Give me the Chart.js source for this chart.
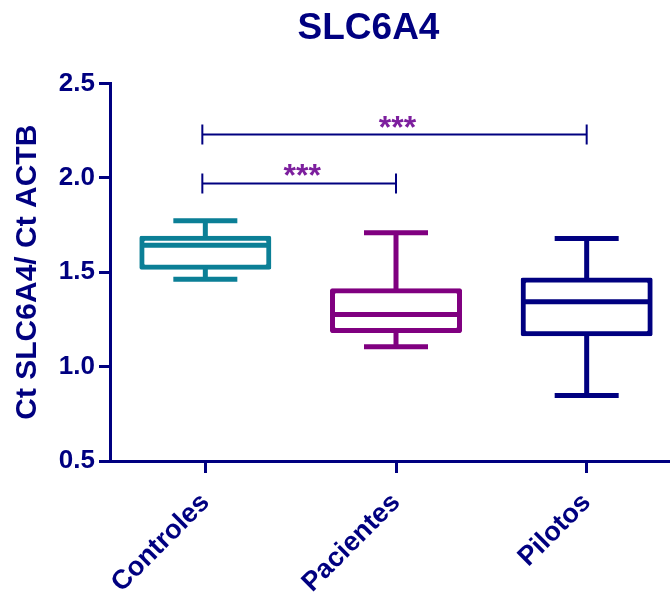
<!DOCTYPE html>
<html>
<head>
<meta charset="utf-8">
<script src="https://cdn.jsdelivr.net/npm/chart.js@4"></script>
<style>
  html, body { margin: 0; padding: 0; background: #fff; }
  #wrap { width: 670px; height: 598px; }
</style>
</head>
<body>
<div id="wrap"><canvas id="chart"></canvas></div>
<script>
// box plot values
const categories = ['Controles', 'Pacientes', 'Pilotos'];
const whiskerMax = [1.773, 1.709, 1.678];
const q3 = [1.683, 1.405, 1.461];
const medians = [1.643, 1.276, 1.343];
const q1 = [1.524, 1.188, 1.171];
const whiskerMin = [1.462, 1.105, 0.847];
const boxColors = ['#0B7F96', '#800080', '#000080'];

// significance brackets
const sigFrom = [0, 0];
const sigTo = [1, 2];
const sigLevel = [1.97, 2.229];
const sigLabel = ['***', '***'];

const yTicks = [0.5, 1.0, 1.5, 2.0, 2.5];
const chartTitle = 'SLC6A4';

const navy = '#000080';
const font = 'Arial, "Liberation Sans", sans-serif';

// whiskers, caps, medians, brackets and title drawn from the scales
const boxExtras = {
  id: 'boxExtras',
  afterDatasetsDraw(chart) {
    const { ctx, scales: { x, y } } = chart;
    ctx.save();
    ctx.lineCap = 'butt';
    categories.forEach((c, i) => {
      const cx = x.getPixelForValue(i);
      ctx.strokeStyle = boxColors[i];
      ctx.lineWidth = 5;
      ctx.beginPath();
      // stems
      ctx.moveTo(cx, y.getPixelForValue(q3[i]));
      ctx.lineTo(cx, y.getPixelForValue(whiskerMax[i]));
      ctx.moveTo(cx, y.getPixelForValue(q1[i]));
      ctx.lineTo(cx, y.getPixelForValue(whiskerMin[i]));
      // caps
      ctx.moveTo(cx - 32, y.getPixelForValue(whiskerMax[i]));
      ctx.lineTo(cx + 32, y.getPixelForValue(whiskerMax[i]));
      ctx.moveTo(cx - 32, y.getPixelForValue(whiskerMin[i]));
      ctx.lineTo(cx + 32, y.getPixelForValue(whiskerMin[i]));
      // median
      ctx.moveTo(cx - 64, y.getPixelForValue(medians[i]));
      ctx.lineTo(cx + 64, y.getPixelForValue(medians[i]));
      ctx.stroke();
    });

    sigFrom.forEach((f, k) => {
      const x1 = x.getPixelForValue(f) - 3;
      const x2 = x.getPixelForValue(sigTo[k]);
      const yy = y.getPixelForValue(sigLevel[k]);
      ctx.strokeStyle = navy;
      ctx.lineWidth = 2;
      ctx.beginPath();
      ctx.moveTo(x1, yy); ctx.lineTo(x2, yy);
      ctx.moveTo(x1, yy - 10); ctx.lineTo(x1, yy + 10);
      ctx.moveTo(x2, yy - 10); ctx.lineTo(x2, yy + 10);
      ctx.stroke();
      ctx.fillStyle = '#7D1F9E';
      ctx.font = 'bold 32px ' + font;
      ctx.textAlign = 'center';
      ctx.textBaseline = 'alphabetic';
      ctx.fillText(sigLabel[k], (x1 + x2) / 2 + 3, yy + 3);
    });

    // title sits a bit right of the canvas centre, like the original
    ctx.fillStyle = navy;
    ctx.font = 'bold 37px ' + font;
    ctx.textAlign = 'center';
    ctx.textBaseline = 'alphabetic';
    ctx.fillText(chartTitle, chart.width * 0.55, 38.5);
    ctx.restore();
  }
};

new Chart(document.getElementById('chart'), {
  type: 'bar',
  data: {
    datasets: [{
      label: chartTitle,
      data: categories.map((c, i) => ({ x: i, y: [q1[i], q3[i]] })),
      backgroundColor: 'rgba(0,0,0,0)',
      borderColor: boxColors,
      borderWidth: 1,
      inflateAmount: 2,
      borderSkipped: false,
      borderRadius: 2,
      barThickness: 128,
      grouped: false
    }]
  },
  options: {
    responsive: true,
    maintainAspectRatio: false,
    animation: false,
    layout: { padding: { top: 83.4 } },
    plugins: {
      legend: { display: false },
      tooltip: { enabled: false },
      title: { display: false }
    },
    scales: {
      x: {
        type: 'linear',
        offset: false,
        min: -0.5,
        max: 2.437,
        afterBuildTicks: axis => { axis.ticks = categories.map((c, i) => ({ value: i })); },
        afterFit: axis => { axis.height = 137; },
        border: { color: navy, width: 3 },
        grid: { offset: false, drawOnChartArea: false, drawTicks: true, tickLength: 12, tickColor: navy, tickWidth: 3 },
        ticks: {
          autoSkip: false,
          minRotation: 45,
          maxRotation: 45,
          padding: 14,
          color: navy,
          font: { family: font, size: 27, weight: 'bold' },
          callback: v => categories[v]
        }
      },
      y: {
        min: 0.5,
        max: 2.5,
        afterBuildTicks: axis => { axis.ticks = yTicks.map(v => ({ value: v })); },
        afterFit: axis => { axis.width = 110; },
        border: { color: navy, width: 3 },
        grid: { drawOnChartArea: false, drawTicks: true, tickLength: 11, tickColor: navy, tickWidth: 3 },
        ticks: {
          padding: 4,
          color: navy,
          font: { family: font, size: 26, weight: 'bold' },
          callback: v => v.toFixed(1)
        },
        title: {
          display: true,
          text: 'Ct SLC6A4/ Ct ACTB',
          color: navy,
          font: { family: font, size: 30, weight: 'bold', lineHeight: 1.2 },
          padding: { top: 10, bottom: 0 }
        }
      }
    }
  },
  plugins: [boxExtras]
});
</script>
</body>
</html>
